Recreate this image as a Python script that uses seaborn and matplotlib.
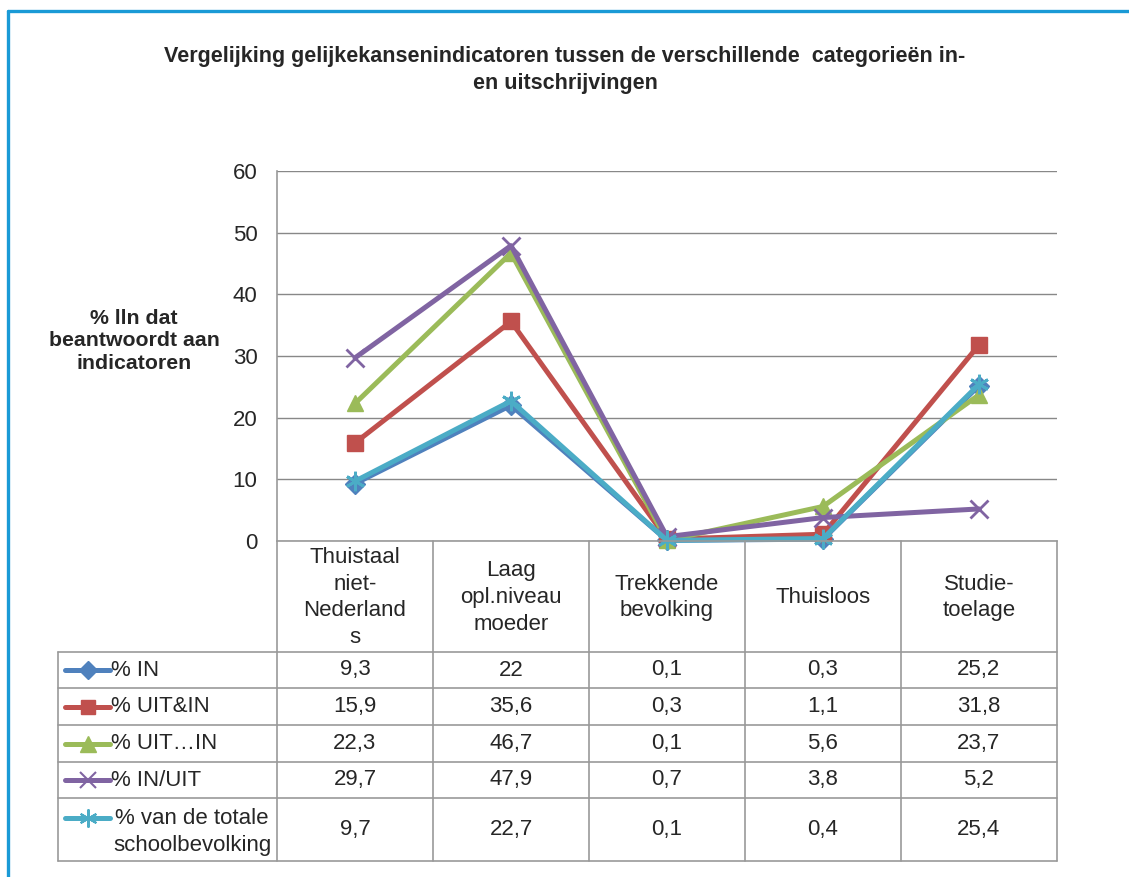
import numpy as np
import pandas as pd
import matplotlib
matplotlib.use("Agg")
import matplotlib.pyplot as plt
from matplotlib.lines import Line2D
import seaborn as sns

# chart data
categorieen = ["Thuistaal\nniet-\nNederland\ns", "Laag\nopl.niveau\nmoeder",
               "Trekkende\nbevolking", "Thuisloos", "Studie-\ntoelage"]
series = ["% IN", "% UIT&IN", "% UIT\u2026IN", "% IN/UIT",
          "% van de totale\nschoolbevolking"]
pct_in = [9.3, 22, 0.1, 0.3, 25.2]
pct_uit_en_in = [15.9, 35.6, 0.3, 1.1, 31.8]
pct_uit_in = [22.3, 46.7, 0.1, 5.6, 23.7]
pct_in_uit = [29.7, 47.9, 0.7, 3.8, 5.2]
pct_totaal = [9.7, 22.7, 0.1, 0.4, 25.4]
yticks = [0, 10, 20, 30, 40, 50, 60]

waarden = [pct_in, pct_uit_en_in, pct_uit_in, pct_in_uit, pct_totaal]
kleuren = ["#4F81BD", "#C0504D", "#9BBB59", "#8064A2", "#4BACC6"]
markers = ["D", "s", "^", "x", (6, 2, 0)]
msizes = [10, 11, 12, 13, 14]

df = pd.DataFrame({"categorie": categorieen})
for s, vals in zip(series, waarden):
    df[s] = vals

sns.set_theme(style="white")
plt.rcParams["font.family"] = ["Liberation Sans", "DejaVu Sans"]

W, H = 1129, 877
fig = plt.figure(figsize=(W / 100, H / 100), dpi=100)

def fx(px):
    return px / W

def fy(py):
    return 1 - py / H

FS = 16
left, right, top, bottom = 277, 1057, 171, 541
ax = fig.add_axes([fx(left), fy(bottom), fx(right) - fx(left), fy(top) - fy(bottom)])

for s, col, mk, ms in zip(series, kleuren, markers, msizes):
    sns.lineplot(data=df, x="categorie", y=s, color=col, marker=mk, markersize=ms,
                 markeredgecolor=col, markerfacecolor=col,
                 markeredgewidth=2 if ms >= 13 else 1, linewidth=3.6,
                 sort=False, ax=ax, clip_on=False)

ax.set_xlim(-0.5, 4.5)
ax.set_ylim(0, 60)
ax.set_yticks(yticks)
ax.set_yticklabels([str(t) for t in yticks], fontsize=FS)
ax.tick_params(axis="y", length=0, pad=14)
ax.set_xticks([])
ax.set_xlabel("")
ax.set_ylabel("")
ax.grid(axis="y", color="#888888", linewidth=1)
for sp in ["top", "right"]:
    ax.spines[sp].set_visible(False)
for sp in ["left", "bottom"]:
    ax.spines[sp].set_color("#999999")
    ax.spines[sp].set_linewidth(1.2)

fig.text(fx(134), fy(341), "% lln dat\nbeantwoordt aan\nindicatoren", ha="center",
         va="center", fontsize=15.3, fontweight="bold", linespacing=1.25)

fig.text(fx(565), fy(70), "Vergelijking gelijkekansenindicatoren tussen de verschillende  categorieën in-\nen uitschrijvingen",
         ha="center", va="center", fontsize=15.5, fontweight="bold", linespacing=1.35)

# data table
col_x = [277 + 156 * k for k in range(6)]
row_y = [541, 652, 688, 725, 762, 798, 861]
gc = "#999999"
for x in col_x:
    fig.add_artist(Line2D([fx(x), fx(x)], [fy(541), fy(861)], color=gc, lw=1.2))
fig.add_artist(Line2D([fx(58), fx(58)], [fy(652), fy(861)], color=gc, lw=1.2))
for y in row_y[1:]:
    fig.add_artist(Line2D([fx(58), fx(1057)], [fy(y), fy(y)], color=gc, lw=1.2))

for k, c in enumerate(categorieen):
    cx = (col_x[k] + col_x[k + 1]) / 2
    fig.text(fx(cx), fy((541 + 652) / 2 + 1), c, ha="center", va="center",
             fontsize=FS, linespacing=1.35)

for r, (s, vals) in enumerate(zip(series, waarden)):
    cy = (row_y[r + 1] + row_y[r + 2]) / 2
    for k, v in enumerate(vals):
        cx = (col_x[k] + col_x[k + 1]) / 2
        txt = f"{v:g}".replace(".", ",")
        fig.text(fx(cx), fy(cy), txt, ha="center", va="center", fontsize=FS)
    ly = (row_y[r + 1] + 20) if r == 4 else cy
    ew = 1.5 if r >= 3 else 1
    fig.add_artist(Line2D([fx(65), fx(110)], [fy(ly), fy(ly)], color=kleuren[r], lw=3.6))
    fig.add_artist(Line2D([fx(87.5)], [fy(ly)], color=kleuren[r], lw=0,
                          marker=markers[r], markersize=msizes[r] - 1,
                          markeredgecolor=kleuren[r], markerfacecolor=kleuren[r],
                          markeredgewidth=ew))
    if r == 4:
        fig.text(fx(115), fy(ly), "% van de totale", ha="left", va="center", fontsize=FS)
        fig.text(fx(272), fy(ly + 27), "schoolbevolking", ha="right", va="center", fontsize=FS)
    else:
        fig.text(fx(111), fy(cy), s, ha="left", va="center", fontsize=FS)

# blue frame
blue = "#1A9AD6"
fig.add_artist(Line2D([fx(8), fx(8)], [fy(11), 0], color=blue, lw=2.4))
fig.add_artist(Line2D([fx(8), 1], [fy(11), fy(11)], color=blue, lw=2.4))

fig.savefig("out.png", dpi=100, facecolor="white")
